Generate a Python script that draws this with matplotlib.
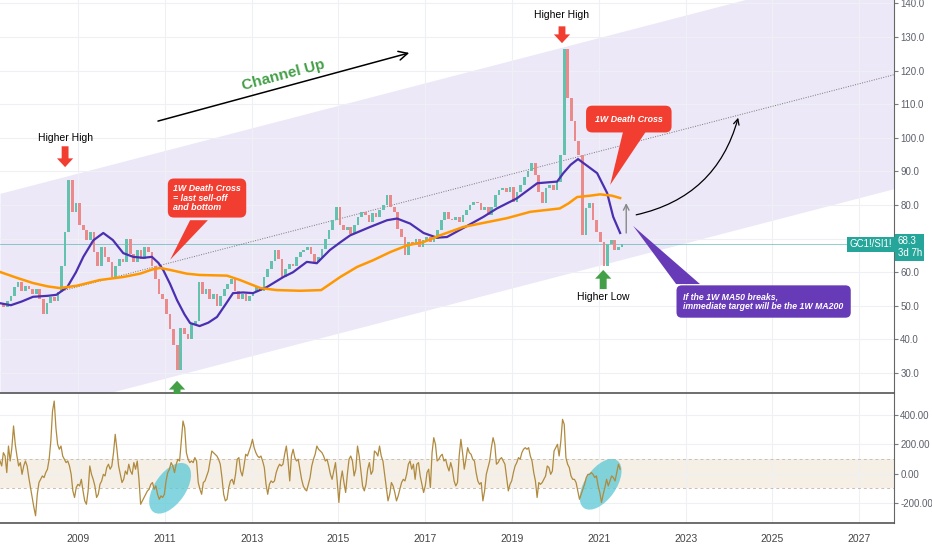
import numpy as np
import matplotlib.pyplot as plt
from matplotlib.patches import Ellipse, Polygon
from matplotlib.transforms import ScaledTranslation, blended_transform_factory

plt.rcParams['font.family'] = ['Liberation Sans', 'DejaVu Sans']

# gold / silver ratio, roughly monthly closes
close = [50.5, 49.8, 51.5, 53.0, 55.5, 57.0, 54.5, 56.0, 55.0, 53.5,
         55.0, 52.0, 47.5, 51.0, 52.5, 51.5, 54.0, 62.0, 72.0, 87.5,
         78.0, 80.5, 74.0, 72.5, 69.5, 72.0, 66.0, 62.0, 67.5, 64.5,
         63.0, 58.5, 62.0, 64.0, 63.0, 70.0, 65.5, 63.0, 66.5, 64.0,
         67.5, 66.0, 62.0, 58.0, 53.5, 52.0, 47.5, 43.0, 38.5, 31.0,
         43.5, 41.5, 40.0, 44.5, 45.5, 57.0, 53.5, 55.0, 52.0, 53.5,
         50.0, 53.0, 55.0, 56.5, 58.0, 54.5, 52.0, 53.5, 51.5, 53.0,
         54.0, 55.5, 54.5, 58.5, 61.0, 63.5, 66.5, 64.0, 58.5, 61.0,
         62.5, 62.0, 64.5, 66.0, 66.5, 67.5, 65.5, 63.0, 64.5, 67.0,
         70.0, 72.5, 75.5, 79.5, 74.0, 72.5, 73.5, 71.5, 74.0, 76.5,
         78.0, 77.0, 75.0, 77.5, 76.5, 78.5, 80.0, 83.0, 79.5, 78.0,
         73.0, 70.5, 65.0, 69.0, 68.0, 70.0, 67.5, 69.5, 70.5, 69.0,
         70.0, 72.5, 75.5, 78.0, 76.0, 75.5, 76.5, 75.0, 77.0, 78.5,
         80.0, 81.0, 80.5, 78.5, 79.5, 77.0, 79.5, 83.0, 84.5, 85.0,
         84.0, 85.5, 81.0, 84.0, 86.0, 88.5, 90.0, 92.5, 89.0, 84.0,
         80.5, 85.0, 86.0, 84.5, 87.0, 95.0, 126.5, 112.0, 105.0, 99.0,
         95.0, 71.0, 79.0, 80.5, 75.5, 72.0, 69.0, 62.0, 68.5, 69.5,
         66.5, 67.5, 68.3]
t_close = 2007.2 + np.arange(len(close)) / 12
last_price = 68.3

ma50_t = [2007.2, 2007.45, 2007.7, 2007.96, 2008.3, 2008.5, 2008.75, 2008.95, 2009.12,
          2009.35, 2009.58, 2009.8, 2010.04, 2010.27, 2010.5, 2010.7, 2010.85, 2010.96,
          2011.12, 2011.28, 2011.45, 2011.58, 2011.8, 2012.0, 2012.2, 2012.4, 2012.57,
          2012.8, 2013.03, 2013.35, 2013.73, 2013.95, 2014.27, 2014.5, 2014.8, 2015.05,
          2015.27, 2015.73, 2016.12, 2016.35, 2016.65, 2016.96, 2017.27, 2017.5, 2017.88,
          2018.34, 2018.65, 2019.11, 2019.58, 2020.04, 2020.18, 2020.35, 2020.52, 2020.75,
          2020.96, 2021.19, 2021.33, 2021.49]
ma50_v = [50.8, 50.2, 51.3, 52.7, 53.0, 53.3, 55.6, 60.0, 64.6,
          69.5, 71.7, 69.6, 65.7, 64.6, 64.3, 64.6, 62.8, 60.7,
          56.5, 51.7, 47.5, 44.9, 44.0, 45.0, 46.7, 50.5, 53.8,
          54.0, 53.8, 55.6, 58.6, 60.0, 63.1, 62.7, 66.6, 69.0,
          71.0, 73.5, 75.5, 76.0, 74.5, 71.7, 70.3, 70.5, 73.2,
          76.5, 79.0, 82.0, 86.5, 87.0, 89.5, 92.0, 93.7, 91.5,
          89.5, 83.6, 76.5, 71.7]

ma200_t = [2007.2, 2007.6, 2007.96, 2008.3, 2008.58, 2008.97, 2009.5, 2010.04, 2010.43,
           2010.7, 2010.89, 2011.12, 2011.5, 2011.8, 2012.43, 2012.73, 2013.2, 2013.58,
           2014.12, 2014.6, 2015.04, 2015.43, 2015.8, 2016.19, 2016.58, 2016.96, 2017.34,
           2017.88, 2018.34, 2018.88, 2019.42, 2020.1, 2020.3, 2020.5, 2020.8, 2021.03,
           2021.3, 2021.49]
ma200_v = [60.1, 58.3, 56.8, 55.8, 55.3, 56.0, 57.7, 58.6, 59.6,
           60.8, 61.3, 60.7, 59.6, 59.2, 59.0, 57.7, 55.3, 54.7,
           54.5, 54.7, 58.6, 61.6, 63.6, 66.0, 68.0, 69.0, 71.0,
           73.5, 74.7, 76.1, 78.0, 79.0, 80.5, 82.4, 82.8, 83.2,
           82.8, 82.1]

# CCI, read about every two weeks
cci = [86, 52, 143, 120, 7, 188, 86, 177, 325, 200, 120, 52, 75, -5, 52, 86, 52, -27,
       -95, -163, -231, -288, -141, -61, -39, -16, -27, 7, 30, 98, 222, 427, 495, 313,
       200, 166, 188, 120, 98, 75, 86, 52, -5, -118, -163, -95, -73, -84, -39, -118,
       -186, -209, -118, 52, -5, -39, -84, -163, -141, -73, -50, -5, -16, 41, 64, 30,
       52, 143, 268, 166, 52, -5, -61, -39, 18, -5, 64, 18, -5, 75, 30, 86, -39, -209,
       -186, -163, -141, -118, -107, -73, -61, -107, -84, -141, -175, -152, -163, -141,
       -50, 7, 30, 75, 52, 7, 64, 98, 86, 222, 359, 313, 143, 98, 75, 86, 75, 109, 86,
       -61, -107, -141,
       -61, -50, -16, 18, 86, 154, 143, 132, 120, 98, 64, -27, -141, -186, -175, -95,
       -50, -39, -73, -5, 98, 109, 18, -16, 52, 132, 120, 154, 188, 234, 177, 143, 120,
       109, 120, 86, 41, -73, -141, -73, -50, -61, -50, 7, 41, 64, 52, 64, 132, 188, 86,
       -50, 120, 166, 109, 86, 98, 30, -39, -84, -107, -118, -73, -27, 52, 98, 132, 188,
       166, 154, 143, 120, 86, 98, 52, -5, -39, 18, 75, -50, -197, -50, 18, -61, -129,
       -5, 98, 120, 86, -16, 30, 188, 120, 18, -84, -118, -73, 30, 75, -5, 18, 154, 143,
       120, 188, 120, 86, -5, -95, -186, -141, -61, -84, -129, -186, -152, -107, -61,
       -39, -50, -5, 64, 86, 30, 64,
       -39, 64, 75, -16, -73, -129, -84, 7, 30, -95, 143, 245, 200, 86, 98, 120, 132,
       86, 98, 52, 18, 75, 30, -50, -84, -61, 120, 234, 143, 30, 98, 177, 143, 132, 98,
       86, 7, -50, -73, -61, -186, -118, -5, 41, 86, 177, 245, 200, 64, 75, 98, 109, 86,
       64, -27, -118, -73, -50, 7, 52, 75, 109, 98, 143, 166, 177, 166, 177, 120, 86, 7,
       -50, -163, -61, -73, -61, -39, -16, 52, 41, -5, 18, 154, 177, 200, 120, 222, 370,
       336, 109, 64, 41, -16, -39, -39, -61, -118, -175, -141, -107, -73, -27, -5, -5, 7,
       -5, -27, -16, -84, -129, -197, -141, -95, -39, -84, -50, -16, -27, -50, 7, 64, 30]
t_cci = np.linspace(2007.2, 2021.49, len(cci))

# channel up
chan_t = [2007.2, 2027.8]
chan_low = [15.7, 84.9]
chan_high = [83.5, 152.7]
mid_t = [2008.58, 2027.8]
mid_v = [54.3, 118.8]

years = [2009, 2011, 2013, 2015, 2017, 2019, 2021, 2023, 2025, 2027]
price_ticks = list(range(30, 141, 10))
cci_ticks = [-200, 0, 200, 400]

RED = '#f23e31'
GREEN = '#43a047'
PURPLE = '#673ab7'
TEAL = '#26a69a'
GRID = '#eef0f4'

fig = plt.figure(figsize=(9.32, 5.5), dpi=100)
ax = fig.add_axes([0, 0.2855, 0.9592, 0.7145])
ax2 = fig.add_axes([0, 0.0491, 0.9592, 0.2345])

for a in (ax, ax2):
    a.set_xlim(2007.2, 2027.8)
    a.set_xticks(years)
    a.grid(True, color=GRID, lw=0.8)
    a.set_axisbelow(True)
    a.yaxis.tick_right()
    a.tick_params(axis='y', length=3, color='#787b86', labelsize=7,
                  labelcolor='#5d606b', pad=1.5)
    for s in ('left', 'top'):
        a.spines[s].set_visible(False)
    a.spines['right'].set_color('#666')
    a.spines['right'].set_linewidth(0.8)

# ---- price panel ----
ax.set_ylim(24.08, 141.04)
ax.set_yticks(price_ticks)
ax.set_yticklabels(['%.1f' % v for v in price_ticks])
ax.tick_params(axis='x', length=0, labelbottom=False)
ax.spines['bottom'].set_color('#555')
ax.spines['bottom'].set_linewidth(1.2)

ax.fill_between(chan_t, chan_low, chan_high, color='#ece8f8', lw=0, zorder=0.5)
ax.plot(mid_t, mid_v, ls=(0, (1, 1.5)), color='#777', lw=0.7, zorder=1)
ax.axhline(last_price, color=TEAL, lw=0.6, alpha=0.6, zorder=1)

opens = np.array([close[0]] + close[:-1])
closes = np.array(close)
up = closes >= opens
ax.bar(t_close, np.maximum(np.abs(closes - opens), 0.4), bottom=np.minimum(opens, closes),
       width=0.062, color=np.where(up, '#62c2ae', '#ea8a8a'), lw=0, zorder=2)

ax.plot(ma50_t, ma50_v, color='#4a2fb0', lw=1.6, zorder=3)
ax.plot(ma200_t, ma200_v, color='#ff9800', lw=1.8, zorder=3)

# channel arrow and label
ax.annotate('', xy=(2016.63, 125.3), xytext=(2010.84, 105.0),
            arrowprops=dict(arrowstyle='->', color='black', lw=1.1, mutation_scale=16,
                            shrinkA=0, shrinkB=0))
ax.text(2013.72, 118.6, 'Channel Up', color=GREEN, fontsize=11, fontweight='bold',
        rotation=15, ha='center', va='center')

fat = 'simple,head_length=0.7,head_width=1.3,tail_width=0.55'
def fat_arrow(tip, tail, color):
    ax.annotate('', xy=tip, xytext=tail,
                arrowprops=dict(arrowstyle=fat, fc=color, ec='none', mutation_scale=9,
                                shrinkA=0, shrinkB=0))

ax.text(2008.70, 100.0, 'Higher High', fontsize=7.5, ha='center', va='center')
fat_arrow((2008.70, 91.3), (2008.70, 97.5), RED)
ax.text(2020.15, 136.6, 'Higher High', fontsize=7.5, ha='center', va='center')
fat_arrow((2020.15, 128.2), (2020.15, 133.2), RED)
fat_arrow((2011.28, 27.7), (2011.28, 22.0), GREEN)
fat_arrow((2021.10, 60.7), (2021.10, 55.0), GREEN)
ax.text(2021.10, 52.6, 'Higher Low', fontsize=7.5, ha='center', va='center')

ax.annotate('', xy=(2021.63, 80.6), xytext=(2021.63, 71.7),
            arrowprops=dict(arrowstyle='->', color='#888', lw=1.0, mutation_scale=10,
                            shrinkA=0, shrinkB=0))
ax.annotate('', xy=(2024.21, 106.0), xytext=(2021.86, 77.1),
            arrowprops=dict(arrowstyle='->', color='black', lw=0.9, mutation_scale=10,
                            connectionstyle='arc3,rad=0.3', shrinkA=0, shrinkB=0))

# callouts
ax.add_patch(Polygon([(2011.58, 75.5), (2011.99, 75.5), (2011.12, 63.7)], closed=True,
                     fc=RED, ec='none', zorder=4))
ax.text(2011.19, 82.1, '1W Death Cross\n= last sell-off\nand bottom', color='white',
        fontsize=6.4, fontweight='bold', style='italic', ha='left', va='center',
        linespacing=1.1, zorder=5,
        bbox=dict(boxstyle='round,pad=0.6,rounding_size=0.7', fc=RED, ec='none'))

ax.add_patch(Polygon([(2021.56, 102.0), (2022.09, 102.0), (2021.26, 86.0)], closed=True,
                     fc=RED, ec='none', zorder=4))
ax.text(2021.69, 105.6, '1W Death Cross', color='white', fontsize=6.4, fontweight='bold',
        style='italic', ha='center', va='center', zorder=5,
        bbox=dict(boxstyle='round,pad=1.0,rounding_size=0.7', fc=RED, ec='none'))

ax.add_patch(Polygon([(2022.78, 56.5), (2023.33, 56.5), (2021.79, 73.8)], closed=True,
                     fc=PURPLE, ec='none', zorder=4))
ax.text(2022.95, 51.3, 'If the 1W MA50 breaks,\nimmediate target will be the 1W MA200',
        color='white', fontsize=6.3, fontweight='bold', style='italic', ha='left',
        va='center', linespacing=1.05, zorder=5,
        bbox=dict(boxstyle='round,pad=0.8,rounding_size=0.6', fc=PURPLE, ec='none'))

# price labels on the scale
blend = blended_transform_factory(ax.transAxes, ax.transData)
ax.text(0.998, last_price, 'GC1!/SI1!', transform=blend, ha='right', va='center',
        color='white', fontsize=7, zorder=6,
        bbox=dict(boxstyle='square,pad=0.25', fc=TEAL, ec='none'))
ax.text(1.004, 70.8, '68.3\n3d 7h', transform=blend, ha='left', va='top', clip_on=False,
        color='white', fontsize=7, linespacing=1.3, zorder=6,
        bbox=dict(boxstyle='square,pad=0.25', fc=TEAL, ec='none'))

# ---- CCI panel ----
ax2.set_ylim(-337, 543)
ax2.set_yticks(cci_ticks)
ax2.set_yticklabels(['%.2f' % v for v in cci_ticks])
ax2.set_xticklabels([str(y) for y in years])
ax2.tick_params(axis='x', length=0, labelsize=7.5, labelcolor='#444', pad=8)
ax2.spines['bottom'].set_color('#555')
ax2.spines['bottom'].set_linewidth(1.2)

ax2.axhspan(-100, 100, color='#f5efe6', lw=0, zorder=0.5)
for lvl in (-100, 100):
    ax2.axhline(lvl, color='#c9c0b3', lw=0.7, ls=(0, (3, 3)), zorder=1)

for ct, cv in [(2011.12, -100), (2021.04, -73)]:
    tr = fig.dpi_scale_trans + ScaledTranslation(ct, cv, ax2.transData)
    ax2.add_patch(Ellipse((0, 0), 0.58, 0.31, angle=55, transform=tr,
                          fc='#5bc8d5', ec='none', alpha=0.75, zorder=1.5))

ax2.plot(t_cci, cci, color='#b08a3e', lw=0.9, zorder=2)

fig.savefig('out.png', dpi=100)
